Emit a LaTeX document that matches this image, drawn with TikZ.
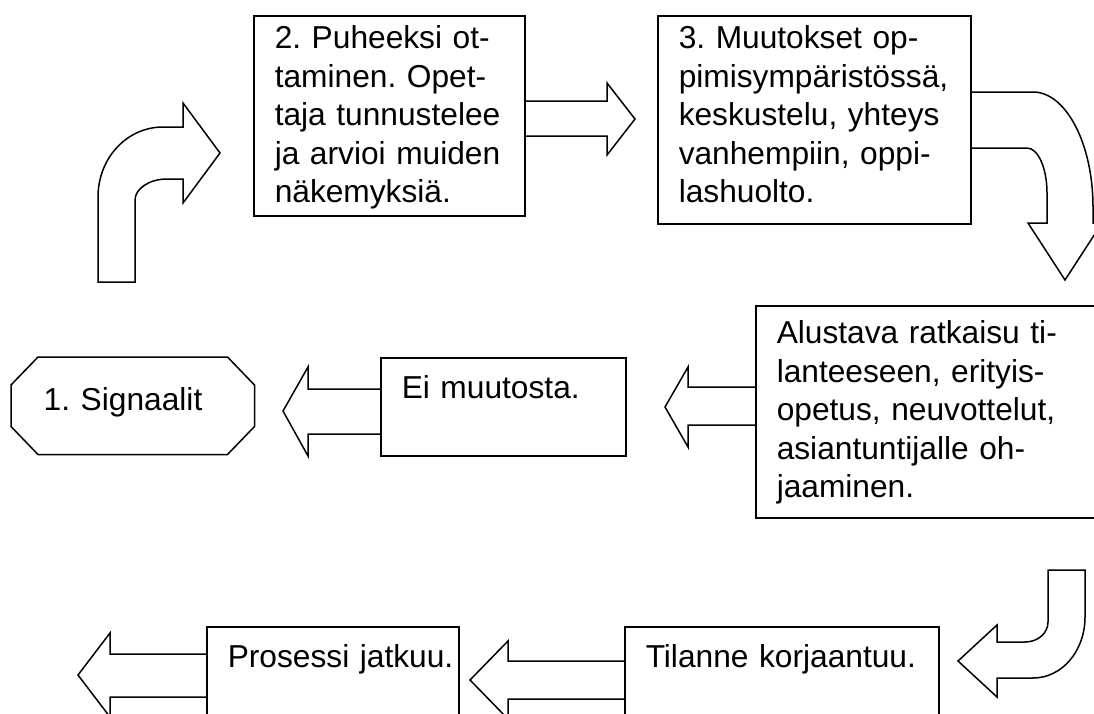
\documentclass[tikz,border=0pt]{standalone}
\usepackage{fontspec}
\setmainfont{Liberation Sans}
\frenchspacing
\begin{document}
\begin{tikzpicture}[x=1pt,y=-1pt,line width=1.5pt,line join=miter,
  txt/.style={anchor=north west,align=left,inner sep=0pt,font=\fontsize{31.7}{38.5}\selectfont\frenchspacing,execute at begin node={\leftskip=21pt}},
  box/.style={txt,draw}]
\useasboundingbox (0,0) rectangle (1094,713);
\clip (0,0) rectangle (1094,713);

% boxes
\node[box,text width=271pt,text height=33pt,text depth=167pt] (puhe) at (253,15) {2. Puheeksi ot-\\taminen. Opet-\\taja tunnustelee\\ja arvioi muiden\\näkemyksiä.};
\node[box,text width=313pt,text height=33pt,text depth=175pt] (muut) at (657,15) {3. Muutokset op-\\pimisympäristössä,\\keskustelu, yhteys\\vanhempiin, oppi-\\lashuolto.};
\node[box,text width=400pt,text height=38pt,text depth=174pt] (alus) at (755,305) {Alustava ratkaisu ti-\\lanteeseen, erityis-\\opetus, neuvottelut,\\asiantuntijalle oh-\\jaaminen.};
\node[box,text width=245pt,text height=41pt,text depth=57pt] (ei) at (380,357) {Ei muutosta.};
\node[box,text width=314pt,text height=41pt,text depth=100pt] (til) at (624,626) {Tilanne korjaantuu.};
\node[box,text width=252pt,text height=41pt,text depth=100pt] (pro) at (206,626) {Prosessi jatkuu.};
\node[txt,text width=242pt,text height=53pt,text depth=43pt,execute at begin node={\leftskip=32pt}] (sig) at (11,357) {1. Signaalit};
\draw ([xshift=27pt]sig.north west) -- ([xshift=-27pt]sig.north east) -- ([yshift=-28pt]sig.north east) -- ([yshift=28pt]sig.south east) -- ([xshift=-27pt]sig.south east) -- ([xshift=27pt]sig.south west) -- ([yshift=28pt]sig.south west) -- ([yshift=-28pt]sig.north west) -- cycle;

% straight block arrows
\draw (puhe.east |- 0,101) -- (607,101) -- (607,83) -- (635,119) -- (607,155) -- (607,136) -- (puhe.east |- 0,136);
\draw (alus.west |- 0,387) -- (688,387) -- (688,367) -- (665,407) -- (688,447) -- (688,425) -- (alus.west |- 0,425);
\draw (ei.west |- 0,389) -- (308,389) -- (308,367) -- (283,411) -- (308,456) -- (308,434) -- (ei.west |- 0,434);
\draw (til.west |- 0,661) -- (508,661) -- (508,641) -- (470,680) -- (508,719) -- (508,699) -- (til.west |- 0,699);
\draw (pro.west |- 0,654) -- (110,654) -- (110,633) -- (78,675) -- (110,717) -- (110,697) -- (pro.west |- 0,697);

% curved block arrows
\draw (98,282) -- (98,197) .. controls (98,158) and (127,127) .. (163,127) -- (183,127) -- (183,103) -- (220,153) -- (183,203) -- (183,179) -- (167,179) .. controls (149,179) and (135,189) .. (135,200) -- (135,282) -- cycle;
\draw (muut.east |- 0,92) -- (1033,92) .. controls (1066,92) and (1093,144) .. (1093,207) -- (1093,223) -- (1102,223) -- (1065,280) -- (1028,223) -- (1047,223) -- (1047,193) .. controls (1047,168) and (1038,148) .. (1027,148) -- (muut.east |- 0,148);
\draw (1048,570) -- (1085,570) -- (1085,617) .. controls (1085,651) and (1062,678) .. (1033,678) -- (997,678) -- (997,697) -- (958,661) -- (997,625) -- (997,642) -- (1025,642) .. controls (1038,642) and (1048,633) .. (1048,622) -- cycle;
\end{tikzpicture}
\end{document}
